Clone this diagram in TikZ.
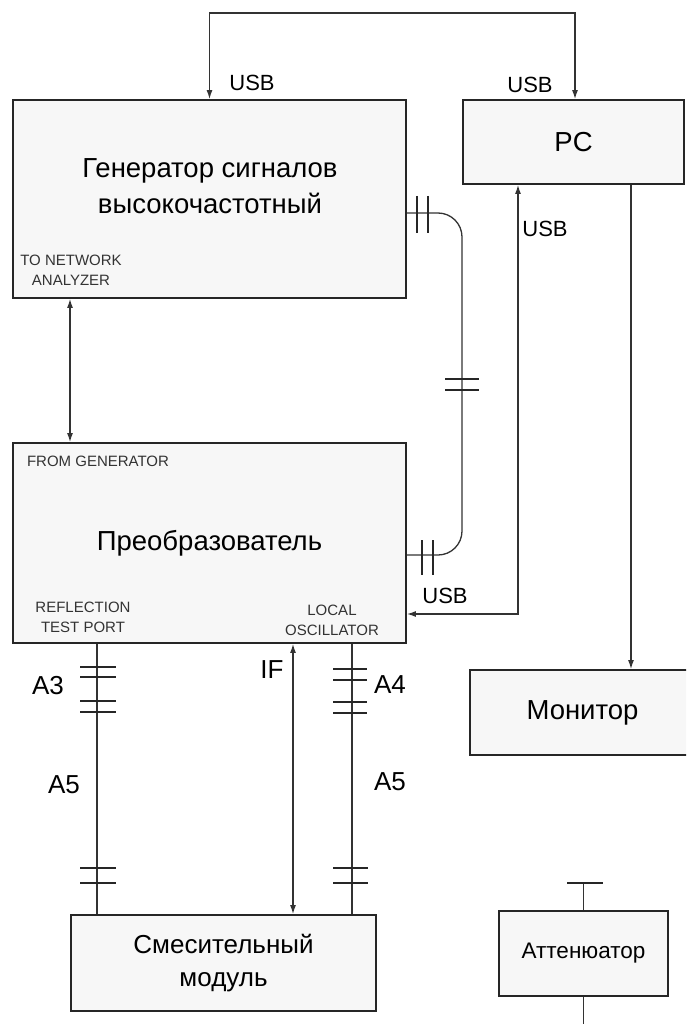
\documentclass[tikz,border=0pt]{standalone}
\usepackage{fontspec}
\setmainfont{Liberation Sans}
\usetikzlibrary{arrows.meta}
\begin{document}
\begin{tikzpicture}[x=1pt,y=-1pt,
  box/.style={draw=black!85, line width=1.8pt, fill=black!3, inner sep=0pt, align=center},
  wire/.style={draw=black!80, line width=1.3pt},
  capbar/.style={draw=black!85, line width=1.7pt},
  arr/.style={-{Latex[length=9pt,width=6pt]}},
  darr/.style={{Latex[length=9pt,width=6pt]}-{Latex[length=9pt,width=6pt]}},
  big/.style={font=\fontsize{27.5}{36}\selectfont},
  mid/.style={font=\fontsize{26}{33}\selectfont},
  usb/.style={font=\fontsize{22}{24}\selectfont, inner sep=0pt},
  tiny/.style={font=\fontsize{15}{20}\selectfont, inner sep=0pt, align=center, text=black!80},
  alab/.style={font=\fontsize{26}{28}\selectfont, inner sep=0pt}]
\useasboundingbox (0,0) rectangle (686,1024);
\fill[white] (0,0) rectangle (686,1024);
\clip (0,0) rectangle (686,1024);

% boxes
\node[box, minimum width=393pt, minimum height=198pt] (gen) at (209.5,199) {};
\node[big, align=center, inner sep=0pt] (gentxt) at (210,186) {Генератор сигналов\\высокочастотный};
\node[box, big, minimum width=221pt, minimum height=84pt] (pc) at (573.5,142) {PC};
\node[box, big, minimum width=393pt, minimum height=200pt] (pre) at (209.5,543) {Преобразователь};
\node[box, big, minimum width=225pt, minimum height=85pt] (mon) at (582.5,712.5) {Монитор};
\node[box, mid, minimum width=305pt, minimum height=96pt] (smes) at (223.5,963) {Смесительный\\модуль};
\node[box, font=\fontsize{22.5}{26}\selectfont, minimum width=169pt, minimum height=85pt] (att) at (583.5,953.5) {Аттенюатор};

% top USB link
\draw[wire, darr] (gen.north) -- (gen.north |- 0,13) -- (575,13) -- (pc.north -| 575,0);
% generator <-> converter
\draw[wire, darr] (gen.south -| 70,0) -- (pre.north -| 70,0);
% generator to converter via connectors
\draw[wire, rounded corners=24pt] (gen.east |- 0,213) -- (462,213) -- (462,555) -- (pre.east |- 0,555);
\draw[capbar] (417,196) -- (417,233) (428,196) -- (428,233);
\draw[capbar] (445,379) -- (479,379) (445,390) -- (479,390);
\draw[capbar] (422,540) -- (422,575) (433,540) -- (433,575);
% PC <-> converter
\draw[wire, darr] (pre.east |- 0,614) -- (518,614) -- (pc.south -| 518,0);
% PC -> monitor
\draw[wire, arr] (pc.south -| 631,0) -- (mon.north -| 631,0);
% converter to mixer
\draw[wire] (pre.south -| 97,0) -- (smes.north -| 97,0);
\draw[wire] (pre.south -| 352,0) -- (smes.north -| 352,0);
\draw[wire, darr] (pre.south -| 293,0) -- (smes.north -| 293,0);
\draw[capbar] (80,667) -- (116,667) (80,677) -- (116,677) (80,701) -- (116,701) (80,712) -- (116,712);
\draw[capbar] (80,868) -- (116,868) (80,883) -- (116,883);
\draw[capbar] (333,669) -- (367,669) (333,680) -- (367,680) (333,702) -- (367,702) (333,713) -- (367,713);
\draw[capbar] (333,868) -- (368,868) (333,883) -- (368,883);
% attenuator leads
\draw[wire] (att.north) -- (att.north |- 0,883);
\draw[capbar] (567,883) -- (603,883);
\draw[wire] (att.south) -- (att.south |- 0,1030);

% labels
\node[usb] (u1) at (252,83) {USB};
\node[usb] (u2) at (530,85) {USB};
\node[usb] (u3) at (545,229) {USB};
\node[usb] (u4) at (445,596) {USB};
\node[tiny] (l1) at (71,270) {TO NETWORK\\ANALYZER};
\node[tiny] (l2) at (98,461) {FROM GENERATOR};
\node[tiny] (l3) at (83,617) {REFLECTION\\TEST PORT};
\node[tiny] (l4) at (332,620) {LOCAL\\OSCILLATOR};
\node[alab] (a3) at (48,686) {A3};
\node[alab] (a5l) at (64,785) {A5};
\node[alab] (a4) at (390,685) {A4};
\node[alab] (a5r) at (390,782) {A5};
\node[alab] (if) at (272,670) {IF};
\end{tikzpicture}
\end{document}
